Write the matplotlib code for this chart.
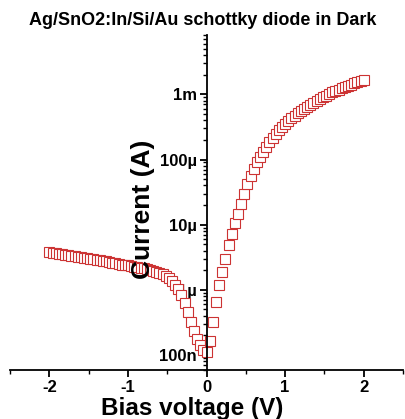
import matplotlib
matplotlib.use('Agg')
import matplotlib.pyplot as plt
from matplotlib.ticker import FixedLocator, LogLocator, NullFormatter

plt.rcParams['font.family'] = ['Liberation Sans', 'DejaVu Sans']
plt.rcParams['font.weight'] = 'bold'

# bias sweep, reverse side (V) and measured current (A)
v_rev = [-2.00, -1.96, -1.92, -1.88, -1.84, -1.80, -1.76, -1.72, -1.68, -1.64,
         -1.60, -1.56, -1.52, -1.48, -1.44, -1.40, -1.36, -1.32, -1.28, -1.24,
         -1.20, -1.16, -1.12, -1.08, -1.04, -1.00, -0.96, -0.92, -0.88, -0.84,
         -0.80, -0.76, -0.72, -0.68, -0.64, -0.60, -0.56, -0.52, -0.48, -0.44,
         -0.40, -0.36, -0.32, -0.28, -0.24, -0.20, -0.16, -0.12, -0.08, -0.04]
i_rev = [3.80e-6, 3.72e-6, 3.63e-6, 3.60e-6, 3.55e-6, 3.47e-6, 3.40e-6, 3.36e-6, 3.30e-6, 3.24e-6,
         3.17e-6, 3.10e-6, 3.06e-6, 3.01e-6, 2.95e-6, 2.89e-6, 2.83e-6, 2.79e-6, 2.74e-6, 2.68e-6,
         2.62e-6, 2.56e-6, 2.50e-6, 2.45e-6, 2.44e-6, 2.40e-6, 2.34e-6, 2.28e-6, 2.23e-6, 2.18e-6,
         2.13e-6, 2.08e-6, 2.03e-6, 1.95e-6, 1.90e-6, 1.82e-6, 1.74e-6, 1.62e-6, 1.51e-6, 1.38e-6,
         1.20e-6, 1.02e-6, 8.3e-7, 6.3e-7, 4.6e-7, 3.2e-7, 2.3e-7, 1.74e-7, 1.41e-7, 1.20e-7]

# forward side
v_fwd = [0.00, 0.04, 0.08, 0.12, 0.16, 0.20, 0.24, 0.28, 0.32, 0.36,
         0.40, 0.44, 0.48, 0.52, 0.56, 0.60, 0.64, 0.68, 0.72, 0.76,
         0.80, 0.84, 0.88, 0.92, 0.96, 1.00, 1.04, 1.08, 1.12, 1.16,
         1.20, 1.24, 1.28, 1.32, 1.36, 1.40, 1.44, 1.48, 1.52, 1.56,
         1.60, 1.64, 1.68, 1.72, 1.76, 1.80, 1.84, 1.88, 1.92, 1.96, 2.00]
i_fwd = [1.12e-7, 1.62e-7, 3.2e-7, 6.6e-7, 1.17e-6, 1.9e-6, 3.0e-6, 4.8e-6, 7.2e-6, 1.05e-5,
         1.48e-5, 2.1e-5, 3.0e-5, 4.2e-5, 5.6e-5, 7.2e-5, 9.1e-5, 1.10e-4, 1.32e-4, 1.58e-4,
         1.86e-4, 2.14e-4, 2.45e-4, 2.82e-4, 3.16e-4, 3.55e-4, 3.89e-4, 4.27e-4, 4.68e-4, 5.13e-4,
         5.62e-4, 6.03e-4, 6.46e-4, 6.92e-4, 7.41e-4, 7.94e-4, 8.51e-4, 9.12e-4, 9.55e-4, 1.00e-3,
         1.07e-3, 1.12e-3, 1.17e-3, 1.23e-3, 1.29e-3, 1.35e-3, 1.41e-3, 1.48e-3, 1.55e-3, 1.58e-3, 1.66e-3]

x_ticks = [-2, -1, 0, 1, 2]
x_labels = ['-2', '-1', '0', '1', '2']
y_ticks = [1e-7, 1e-6, 1e-5, 1e-4, 1e-3]
y_labels = ['100n', '1\u00b5', '10\u00b5', '100\u00b5', '1m']

fig = plt.figure(figsize=(4.05, 4.19), dpi=100)
ax = fig.add_axes([0.025, 0.117, 0.97, 0.80])

ax.plot(v_rev + v_fwd, i_rev + i_fwd, linestyle='none', marker='s', markersize=7,
        markerfacecolor='white', markeredgecolor='#cc3333', markeredgewidth=0.8)

ax.set_yscale('log')
ax.set_xlim(-2.5, 2.5)
ax.set_ylim(5.9e-8, 8.2e-3)

ax.spines['top'].set_visible(False)
ax.spines['right'].set_visible(False)
ax.spines['left'].set_position(('data', 0))
ax.spines['left'].set_linewidth(1.3)
ax.spines['bottom'].set_linewidth(1.3)

ax.xaxis.set_major_locator(FixedLocator(x_ticks))
ax.set_xticklabels(x_labels)
ax.xaxis.set_minor_locator(FixedLocator([-2.5, -1.5, -0.5, 0.5, 1.5, 2.5]))
ax.yaxis.set_major_locator(FixedLocator(y_ticks))
ax.set_yticklabels(y_labels)
ax.yaxis.set_minor_locator(LogLocator(base=10, subs=range(2, 10)))
ax.yaxis.set_minor_formatter(NullFormatter())

ax.tick_params(axis='both', which='major', length=5, width=1.3, labelsize=12, direction='out')
ax.tick_params(axis='both', which='minor', length=3, width=1.0, direction='out')
ax.tick_params(axis='y', pad=2)
ax.tick_params(axis='x', pad=2)

# Origin-style big labels
ax.set_xlabel('Bias voltage (V)', fontsize=17.5, fontweight='bold')
ax.xaxis.set_label_coords(0.464, -0.134)
ax.xaxis.label.set_verticalalignment('baseline')
ax.text(0.356, 0.478, 'Current (A)', transform=ax.transAxes, rotation=90,
        rotation_mode='anchor', ha='center', va='baseline', fontsize=19, fontweight='bold')

fig.text(0.5, 0.940, 'Ag/SnO2:In/Si/Au schottky diode in Dark', ha='center', va='baseline',
         fontsize=13, fontweight='bold')

fig.savefig('out.png', dpi=100)
